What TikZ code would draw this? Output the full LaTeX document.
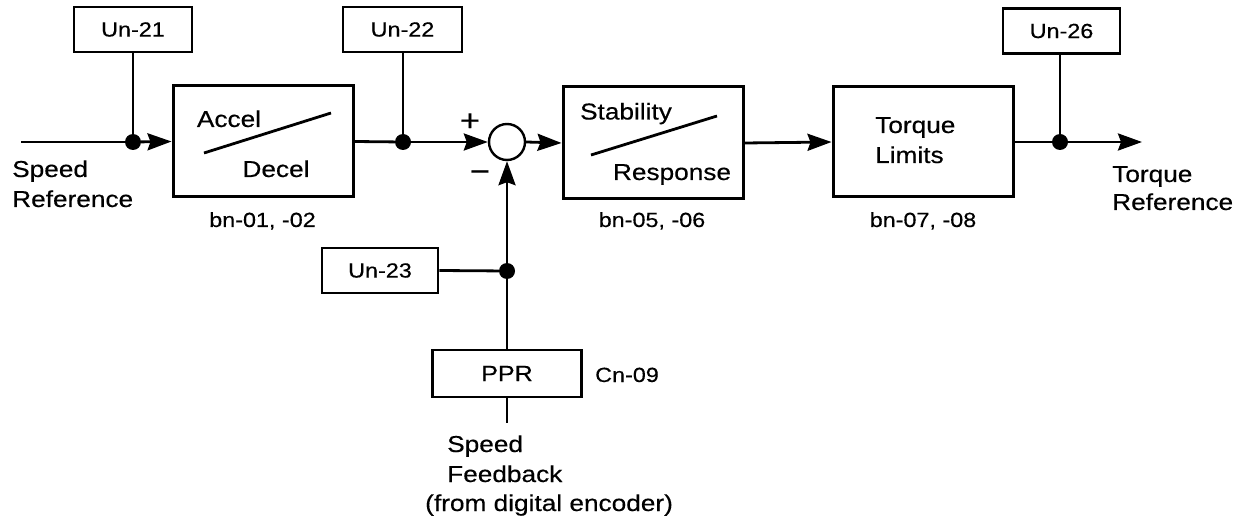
\documentclass[tikz,border=0pt]{standalone}
\usepackage{fontspec}
\setmainfont{Liberation Sans}[FakeStretch=1.14,FakeBold=0.4]
\usetikzlibrary{arrows.meta}
\tikzset{
  blk/.style={draw, line width=3pt, inner sep=0pt},
  mon/.style={draw, line width=2.6pt, inner sep=0pt, minimum height=45pt, font=\fontsize{20.5}{25}\selectfont},
  big/.style={inner sep=0pt, font=\fontsize{23}{30}\selectfont},
  sml/.style={inner sep=0pt, font=\fontsize{20.5}{25}\selectfont},
  ln/.style={line width=2.8pt},
  arr/.style={line width=2.8pt, -{Stealth[length=24pt,width=17pt,inset=3pt]}},
  jdot/.style={circle, fill=black, inner sep=0pt, minimum size=16pt},
}
\begin{document}
\begin{tikzpicture}[x=1pt,y=-1pt]
\useasboundingbox (0,0) rectangle (1233,521);
% monitor boxes
\node[mon, minimum width=118pt] (u21) at (133,29.5) {Un-21};
\node[mon, minimum width=119pt] (u22) at (402.5,29.5) {Un-22};
\node[mon, minimum width=117pt] (u26) at (1061.5,31) {Un-26};
\node[mon, minimum width=116pt] (u23) at (380,270.5) {Un-23};
\node[mon, minimum width=149pt, minimum height=47pt, font=\fontsize{22}{25}\selectfont] (ppr) at (507,373.5) {PPR};
% main blocks
\node[blk, minimum width=180pt, minimum height=111pt] (acc) at (263,141.5) {};
\node[blk, minimum width=180pt, minimum height=112pt] (stab) at (653,143) {};
\node[blk, minimum width=180pt, minimum height=110pt] (torq) at (923,142) {};
\node[circle, draw, line width=2.4pt, minimum size=36pt, inner sep=0pt] (sum) at (507,142) {};
% junctions
\node[jdot] (j1) at (133,142) {};
\node[jdot] (j2) at (403,142) {};
\node[jdot] (j3) at (507,271) {};
\node[jdot] (j4) at (1060,142) {};
\coordinate (in) at (21,142);
\coordinate (out) at (1142,142);
\coordinate (fbend) at (507,423);
% block interiors
\draw[ln] (204,153) -- (331,113);
\draw[ln] (591,155) -- (717,116);
\node[big, anchor=base] (tacc) at (229,127) {Accel};
\node[big, anchor=base] (tdec) at (276,177) {Decel};
\node[big, anchor=base] (tsta) at (626,119.5) {Stability};
\node[big, anchor=base] (tres) at (672,180) {Response};
\node[big, anchor=base west] (ttq) at (875,133) {Torque};
\node[big, anchor=base west] (tlim) at (875,163) {Limits};
% parameter labels
\node[sml, anchor=base] (bn1) at (262.5,227) {bn-01, -02};
\node[sml, anchor=base] (bn2) at (652,227) {bn-05, -06};
\node[sml, anchor=base] (bn3) at (923,227) {bn-07, -08};
\node[sml, anchor=base west] (cn9) at (595,382) {Cn-09};
% io labels
\node[big, anchor=base west] (sr1) at (12,177) {Speed};
\node[big, anchor=base west] (sr2) at (12,207) {Reference};
\node[big, anchor=base west] (tr1) at (1112,182) {Torque};
\node[big, anchor=base west] (tr2) at (1112,210) {Reference};
\node[big, anchor=base west] (sf1) at (447,452) {Speed};
\node[big, anchor=base west] (sf2) at (447,482) {Feedback};
\node[big, anchor=base west] (sf3) at (425,511) {(from digital encoder)};
\node[big, font=\fontsize{30}{30}\selectfont] (plus) at (470,122) {+};
\node[big, font=\fontsize{30}{30}\selectfont] (minus) at (480,176) {−};
% connectors
\draw[ln] (in) -- (j1);
\draw[arr] (j1) -- (acc.west);
\draw[ln] (u21.south) -- (j1);
\draw[ln] (acc.east) -- (j2);
\draw[ln] (j2 |- u22.south) -- (j2);
\draw[arr] (j2) -- (sum.west);
\draw[arr] (sum.east) -- (stab.west);
\draw[arr] (stab.east) -- (torq.west);
\draw[ln] (torq.east) -- (j4);
\draw[ln] (j4 |- u26.south) -- (j4);
\draw[arr] (j4) -- (out);
\draw[ln] (ppr.north) -- (j3);
\draw[ln] (u23.east) -- (j3);
\draw[arr] (j3) -- (sum.south);
\draw[ln] (ppr.south) -- (fbend);
\end{tikzpicture}
\end{document}
